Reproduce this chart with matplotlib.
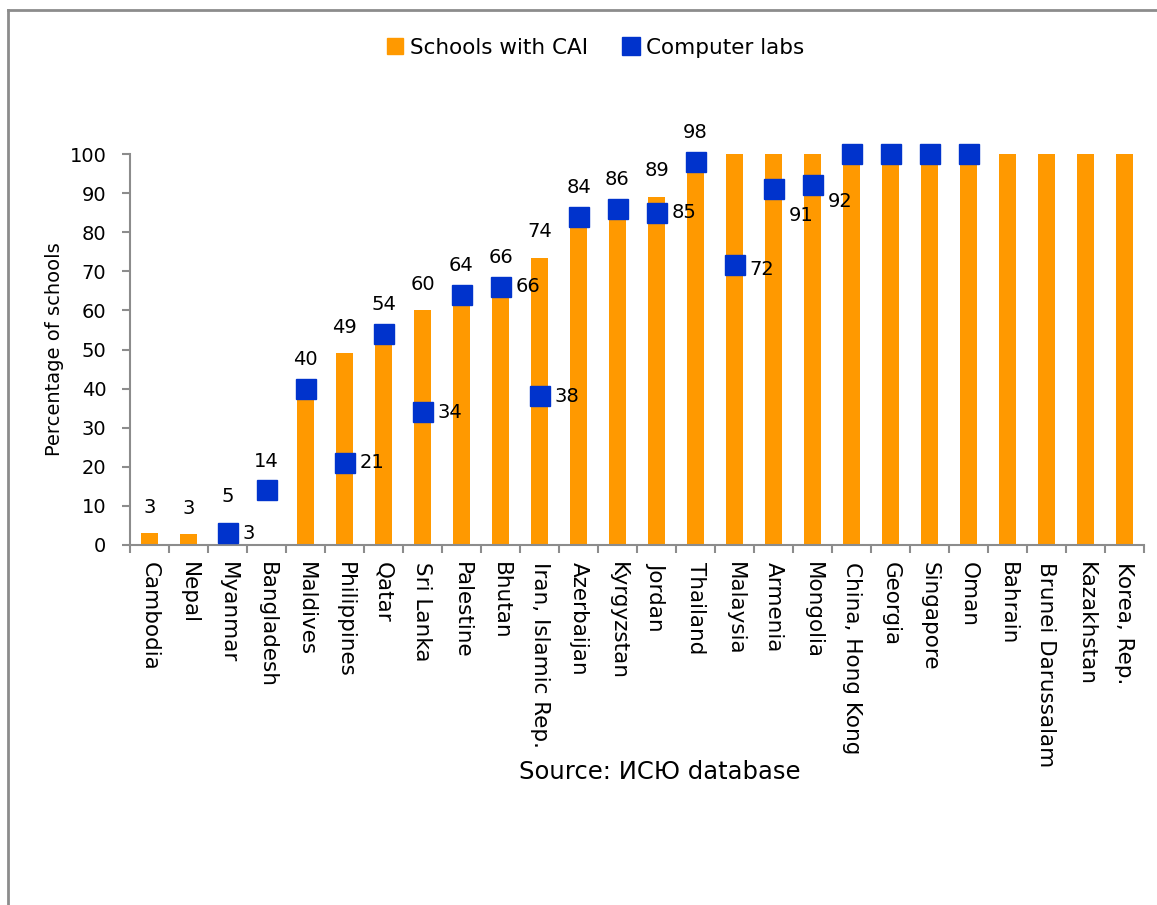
import numpy as np
import matplotlib
matplotlib.use("Agg")
import matplotlib.pyplot as plt
from matplotlib.lines import Line2D

countries = ["Cambodia", "Nepal", "Myanmar", "Bangladesh", "Maldives", "Philippines",
             "Qatar", "Sri Lanka", "Palestine", "Bhutan", "Iran, Islamic Rep.",
             "Azerbaijan", "Kyrgyzstan", "Jordan", "Thailand", "Malaysia", "Armenia",
             "Mongolia", "China, Hong Kong", "Georgia", "Singapore", "Oman", "Bahrain",
             "Brunei Darussalam", "Kazakhstan", "Korea, Rep."]

nan = np.nan
cai = [3, 2.7, 5, nan, 40, 49, 54, 60, 64, 66, 73.5, 84, 86, 89, 98, 100, 100,
       100, 100, 100, 100, 100, 100, 100, 100, 100]
labs = [nan, nan, 3, 14, 40, 21, 54, 34, 64, 66, 38, 84, 86, 85, 98, 71.5, 91,
        92, 100, 100, 100, 100, nan, nan, nan, nan]
# labels next to the computer-lab markers (None = not shown)
labs_side_labels = [None, None, "3", None, None, "21", None, "34", None, "66", "38",
                    None, None, "85", None, "72", "91", "92", None, None, None, None,
                    None, None, None, None]
cai_labels = ["3", "3", "5", "14", "40", "49", "54", "60", "64", "66", "74", "84", "86",
              "89", "98", None, None, None, None, None, None, None, None, None, None, None]

ORANGE = "#FF9900"
BLUE = "#0033CC"
GRAY = "#8c8c8c"

# a few side labels sit lower than the marker centre in the original
side_dy = {"72": -3, "91": -19, "92": -12}

fig = plt.figure(figsize=(11.57, 9.05), dpi=100)
ax = fig.add_axes([130 / 1157, 1 - 545 / 905, 1014 / 1157, 391 / 905])

x = np.arange(len(countries))
ax.bar(x, np.nan_to_num(cai), width=0.42, color=ORANGE, zorder=2)
ax.plot(x, labs, linestyle="none", marker="s", markersize=14.5, color=BLUE,
        markeredgecolor=BLUE, zorder=3, clip_on=False)

for i in range(len(countries)):
    if cai_labels[i] is not None:
        top = cai[i] if not np.isnan(cai[i]) else labs[i]
        off = 12 if np.isnan(labs[i]) or abs(labs[i] - top) > 3 else 14
        ax.annotate(cai_labels[i], (x[i], top), xytext=(0, off), textcoords="offset points",
                    ha="center", va="bottom", fontsize=14)
    lab = labs_side_labels[i]
    if lab is not None:
        ax.annotate(lab, (x[i], labs[i]), xytext=(11, side_dy.get(lab, 0)),
                    textcoords="offset points", ha="left", va="center", fontsize=14)

ax.set_xlim(-0.5, len(countries) - 0.5)
ax.set_ylim(0, 100)
ax.set_yticks(range(0, 101, 10))
ax.set_xticks(x)
ax.set_xticklabels(countries, rotation=-90, fontsize=15.5, va="top", ha="center")
ax.set_xticks(np.arange(-0.5, len(countries)), minor=True)
ax.tick_params(axis="x", which="major", length=0, pad=12)
ax.tick_params(axis="x", which="minor", length=6, color=GRAY, width=1.5)
ax.tick_params(axis="y", length=6, color=GRAY, width=1.5, labelsize=14, pad=11)
for s in ["top", "right"]:
    ax.spines[s].set_visible(False)
for s in ["left", "bottom"]:
    ax.spines[s].set_color(GRAY)
    ax.spines[s].set_linewidth(1.5)
ax.set_ylabel("Percentage of schools", fontsize=14, labelpad=4)

handles = [Line2D([], [], linestyle="none", marker="s", markersize=12, color=ORANGE),
           Line2D([], [], linestyle="none", marker="s", markersize=13, color=BLUE)]
fig.legend(handles, ["Schools with CAI", "Computer labs"], loc="center",
           bbox_to_anchor=(595 / 1157, 1 - 48 / 905), ncol=2, frameon=False,
           fontsize=15.5, handlelength=0.8, handletextpad=0.3, columnspacing=1.6)

fig.text(660 / 1157, 1 - 772 / 905, "Source: ИСЮ database", ha="center", va="center",
         fontsize=17.5)

# outer frame (left and top edges only)
fig.add_artist(Line2D([8 / 1157, 8 / 1157], [0, 1 - 10 / 905], color=GRAY, lw=2,
                      transform=fig.transFigure))
fig.add_artist(Line2D([8 / 1157, 1], [1 - 10 / 905, 1 - 10 / 905], color=GRAY, lw=2,
                      transform=fig.transFigure))

fig.savefig("out.png", dpi=100)
